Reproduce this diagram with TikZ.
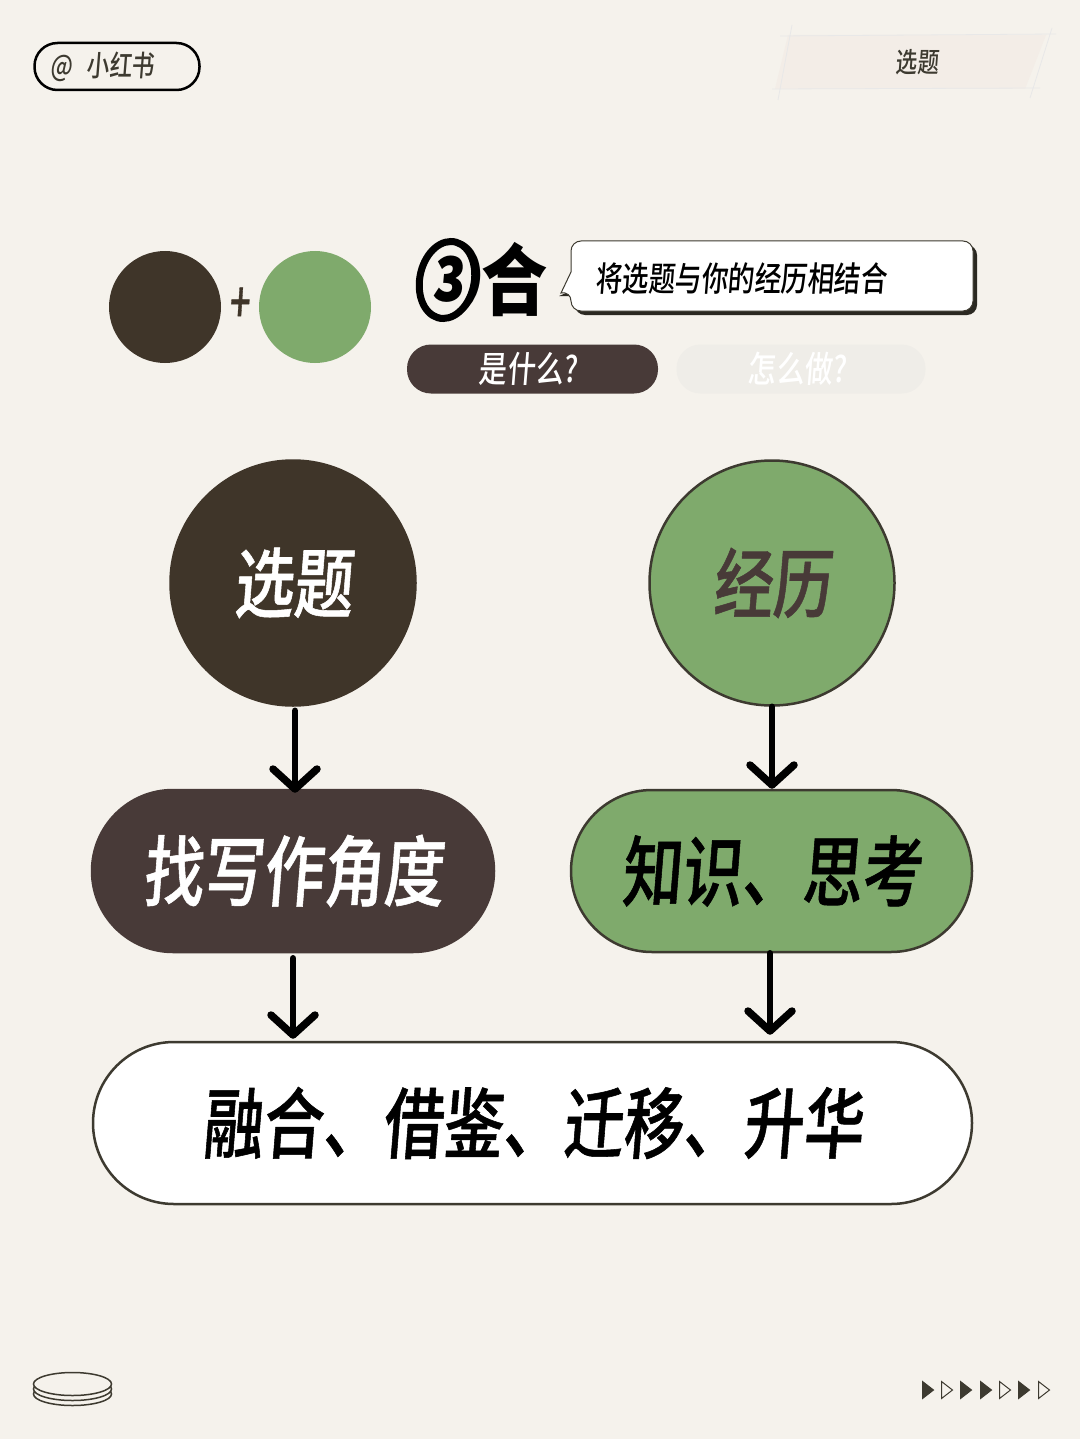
\documentclass[tikz,border=0pt]{standalone}
\usepackage{fontspec}
\usepackage{xcolor}
\usetikzlibrary{arrows.meta,shapes.geometric}
\newfontfamily\cjk[FakeStretch=0.78,FakeSlant=0.08]{Noto Sans CJK SC Medium}
\newfontfamily\cjkbold[FakeStretch=0.78,FakeSlant=0.08,FakeBold=0.7]{Noto Sans CJK SC Medium}
\newfontfamily\cjkheavy{Noto Sans CJK SC Black}
\newfontfamily\cjknumber[FakeSlant=0.12]{Noto Sans CJK SC Black}
\definecolor{papercolor}{HTML}{F5F2EC}
\definecolor{tabcolor}{HTML}{F3EDE7}
\definecolor{darkcolor}{HTML}{3F3529}
\definecolor{pillcolor}{HTML}{483A38}
\definecolor{greencolor}{HTML}{7FAA6C}
\definecolor{edgecolor}{HTML}{3D3A30}
\definecolor{fadecolor}{HTML}{EFEDE8}
\tikzset{
  bigcircle/.style={draw=edgecolor, line width=2.5pt, circle, inner sep=0pt, minimum size=245pt, font=\cjkbold\fontsize{76pt}{80pt}\selectfont},
  bigpill/.style={draw=edgecolor, line width=2.5pt, rectangle, rounded corners=81pt, minimum height=162pt, font=\cjkbold\fontsize{77pt}{80pt}\selectfont},
  smallpill/.style={rectangle, rounded corners=24pt, minimum height=49pt, font=\cjk\fontsize{36pt}{40pt}\selectfont},
  flowarrow/.style={line width=6.5pt, line cap=round, shorten >=-4pt, -{Straight Barb[length=20pt,width=44pt,line width=7.5pt,round]}},
}
\begin{document}
\begin{tikzpicture}[x=1pt,y=-1pt]%
\useasboundingbox (0,0) rectangle (1080,1439);%
\fill[papercolor] (0,0) rectangle (1080,1439);%
% top row
\node[draw=black, line width=2.5pt, rectangle, rounded corners=23pt, minimum width=165pt, minimum height=47pt, font=\cjk\fontsize{29pt}{32pt}\selectfont, text=edgecolor] (handle) at (117,66.5) {@\hspace{14pt}小红书\kern29pt};%
\fill[tabcolor] (788,35) -- (1046,35) -- (1025,89) -- (775,89) -- cycle;%
\draw[black!9, line width=0.8pt] (780,36) -- (1056,34) (772,89) -- (1040,88) (792,25) -- (778,100) (1052,28) -- (1030,98);%
\node[font=\cjk\fontsize{27.5pt}{30pt}\selectfont, text=edgecolor] (tab) at (917,62) {选题};%
% small circles
\node[circle, fill=darkcolor, minimum size=112pt, inner sep=0pt] (dotdark) at (165,307) {};%
\node[circle, fill=greencolor, minimum size=112pt, inner sep=0pt] (dotgreen) at (315,307) {};%
\node[font=\cjkbold\fontsize{46pt}{48pt}\selectfont, text=darkcolor, yscale=1.2] (plus) at (239,305) {+};%
% heading
\node[font=\cjknumber\fontsize{84pt}{88pt}\selectfont, text=black, xscale=0.77, inner sep=0pt] (number) at (447,280) {③};%
\draw[black, line width=7pt, xslant=0.1] (number.center) ellipse (27.5pt and 38.5pt);%
\node[font=\cjkheavy\fontsize{78pt}{82pt}\selectfont, text=black, xscale=0.85] (he) at (515,280) {合};%
\fill[edgecolor!70!black, rounded corners=10pt] (575,245) rectangle (977,315);%
\fill[edgecolor!70!black] (571,291) -- (559,296) -- (575,296) -- cycle;%
\draw[draw=edgecolor, fill=white, line width=1pt, rounded corners=10pt] (700,241) -- (973,241) -- (973,311) -- (571,311) -- (571,291) [sharp corners] -- (561,293) -- (571,272) [rounded corners=10pt] -- (571,241) -- cycle;%
\node[font=\cjk\fontsize{34pt}{38pt}\selectfont, text=black] (callout) at (741,279) {将选题与你的经历相结合};%
\node[smallpill, fill=pillcolor, text=white, minimum width=251pt] (what) at (532.5,369) {是什么?\kern9pt};%
\node[smallpill, fill=fadecolor, text=white, minimum width=249pt] (how) at (801,369) {怎么做?\kern8pt};%
% flow
\node[bigcircle, fill=darkcolor, draw=darkcolor, text=white] (xuanti) at (293,583) {选题};%
\node[bigcircle, fill=greencolor, text=pillcolor] (jingli) at (772,583) {经历};%
\node[bigpill, fill=pillcolor, draw=pillcolor, text=white, minimum width=402pt] (jiaodu) at (293,871) {找写作角度};%
\node[bigpill, fill=greencolor, text=black, minimum width=401pt] (zhishi) at (771.5,871) {知识、思考};%
\node[bigpill, fill=white, text=black, minimum width=879pt] (ronghe) at (532.5,1123) {融合、借鉴、迁移、升华};%
\draw[flowarrow, shorten <=4pt] ([xshift=2pt]xuanti.south) -- ([xshift=2pt]jiaodu.north);%
\draw[flowarrow, shorten >=0pt] (jingli.south) -- (jingli.south |- zhishi.north);%
\draw[flowarrow, shorten <=5pt, shorten >=2pt] (jiaodu.south) -- (jiaodu.south |- ronghe.north);%
\draw[flowarrow, shorten >=6pt] ([xshift=-1.5pt]zhishi.south) -- ([xshift=-1.5pt]zhishi.south |- ronghe.north);%
% bottom marks
\foreach \y in {1394,1389,1384} {%
  \draw[draw=edgecolor, fill=papercolor, line width=1.5pt] (72.5,\y) ellipse (39pt and 11.5pt);%
}%
\foreach \x/\mode in {928/edgecolor,947/papercolor,966/edgecolor,986/edgecolor,1005/papercolor,1024/edgecolor,1044/papercolor} {%
  \draw[draw=edgecolor, fill=\mode, line width=1pt] (\x-5.5,1381.5) -- (\x+5.5,1390) -- (\x-5.5,1398.5) -- cycle;%
}%
\end{tikzpicture}
\end{document}
